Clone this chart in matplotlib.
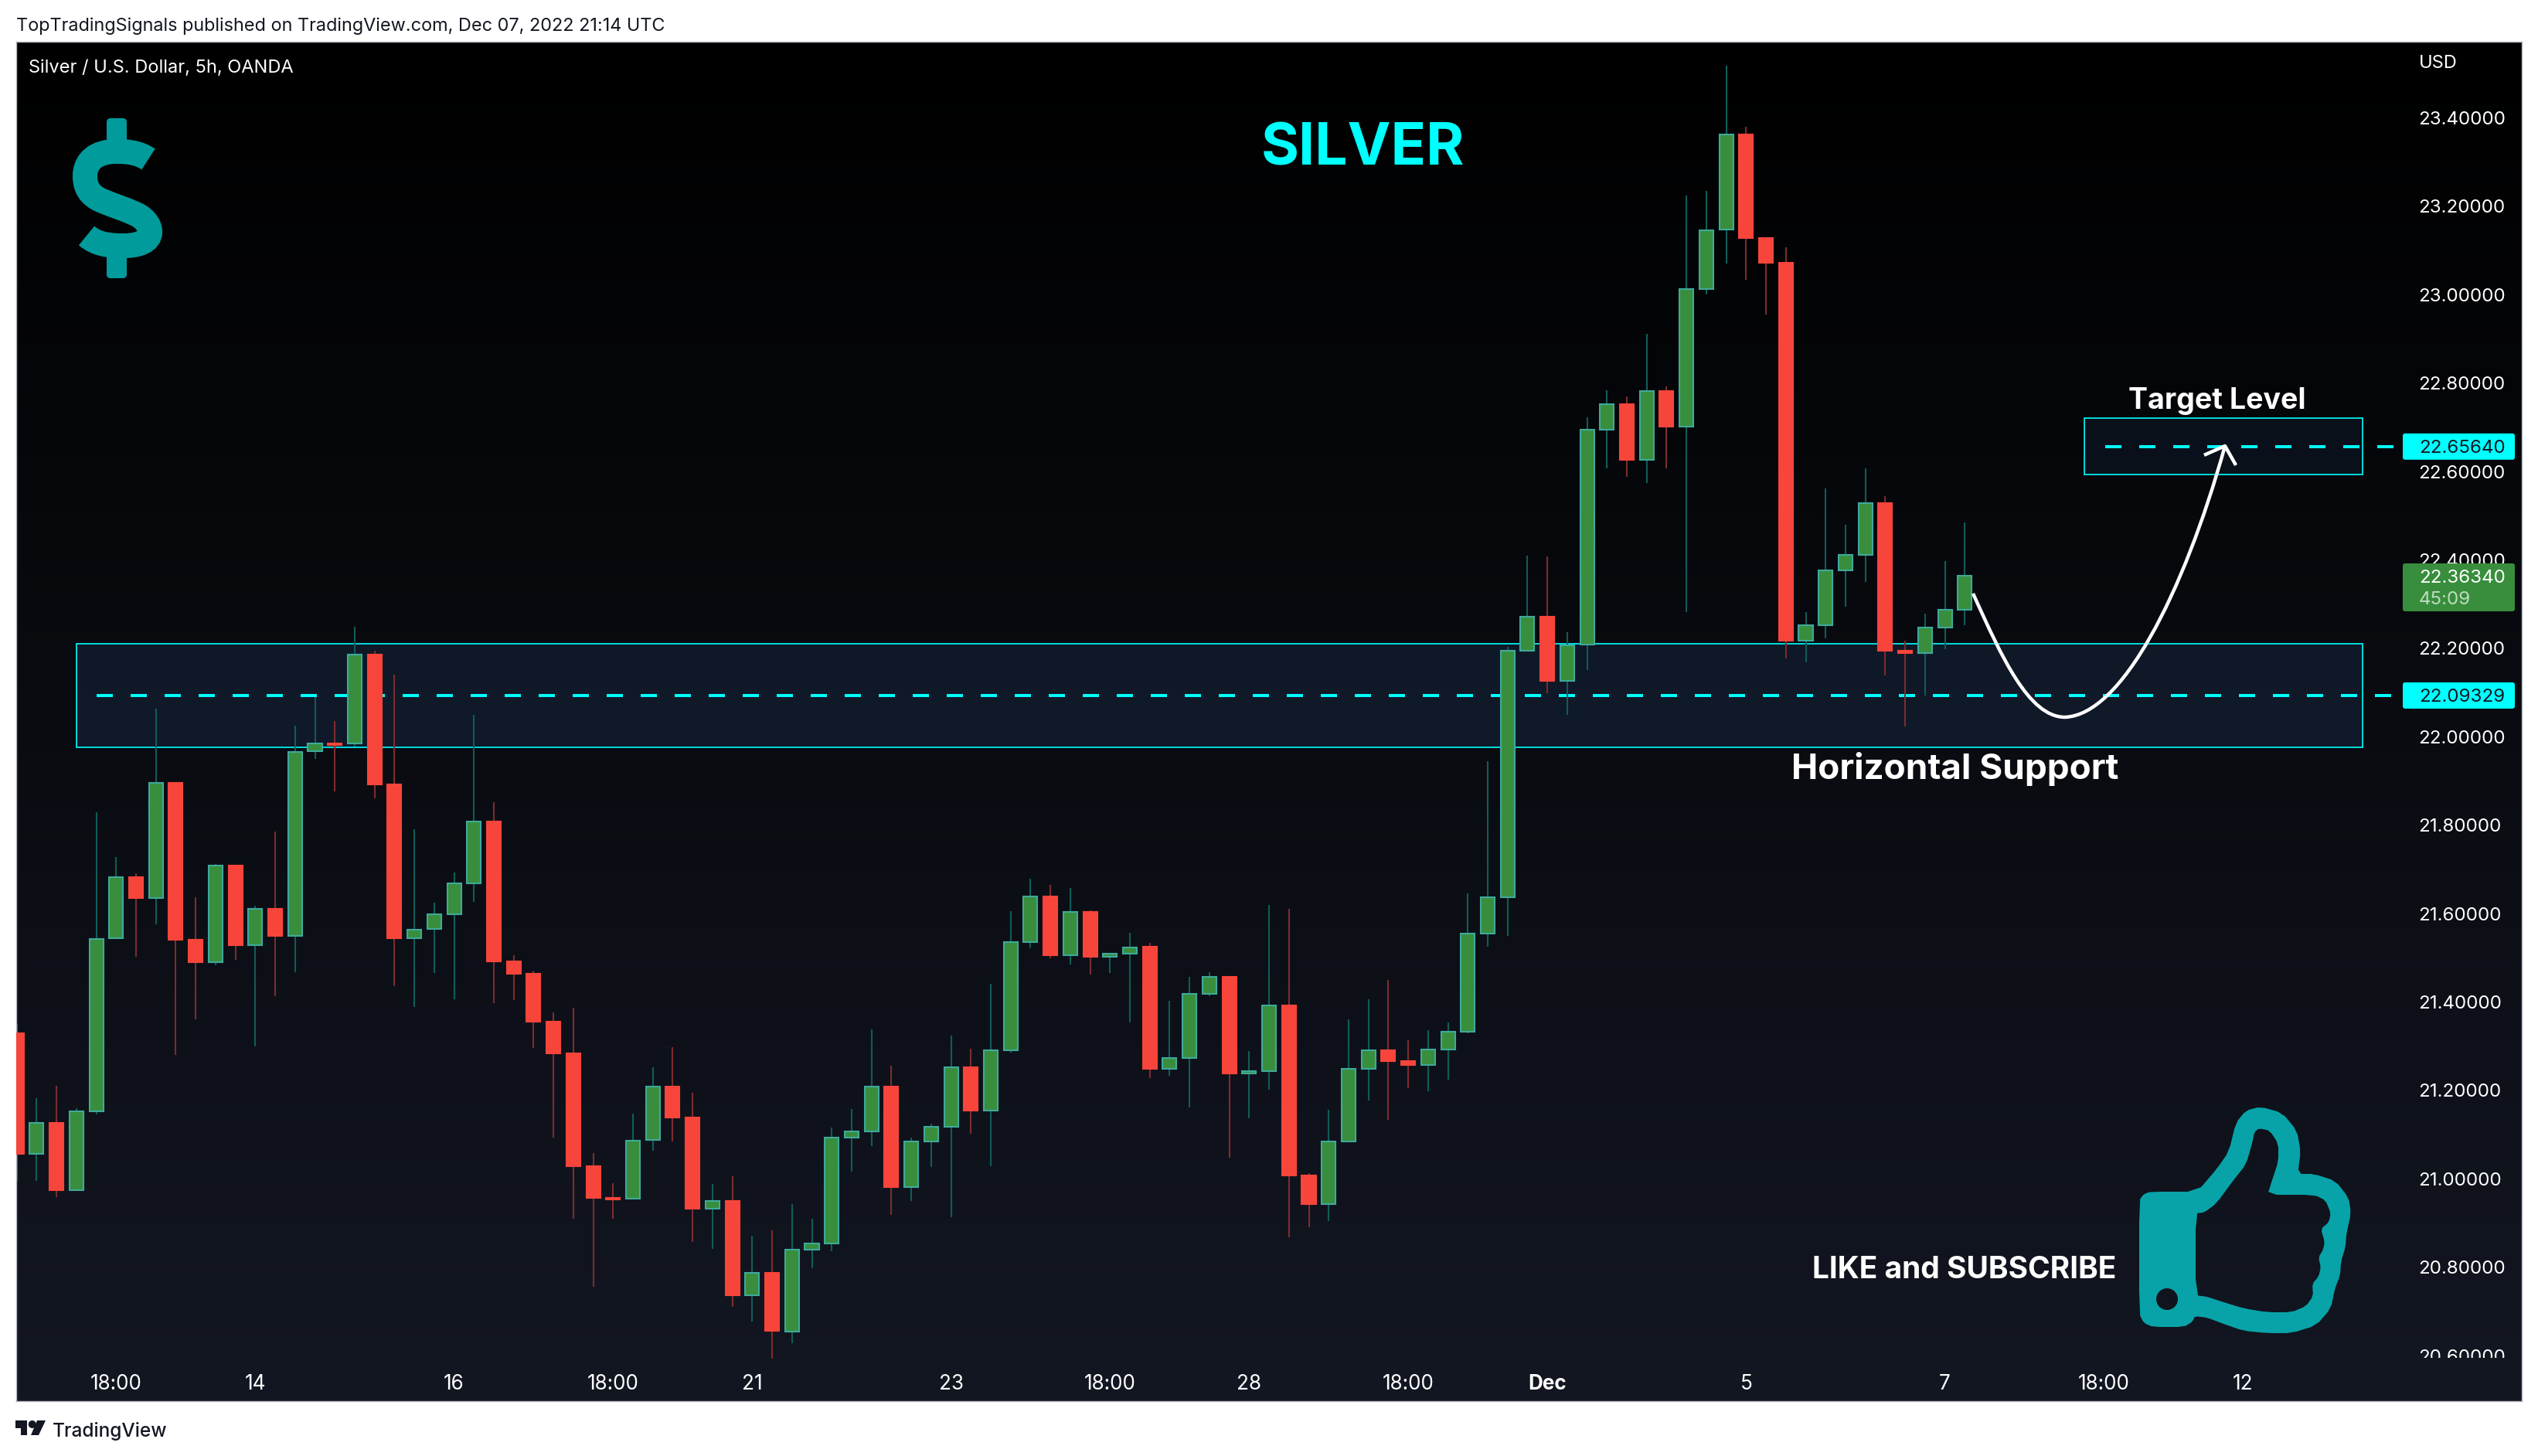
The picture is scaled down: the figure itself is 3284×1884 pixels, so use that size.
import matplotlib
matplotlib.use('Agg')
import matplotlib.pyplot as plt
import numpy as np
from matplotlib.colors import LinearSegmentedColormap
from matplotlib.lines import Line2D
from matplotlib.patches import Ellipse, FancyBboxPatch, PathPatch, Polygon, Rectangle
from matplotlib.path import Path
from matplotlib.transforms import Affine2D, Bbox

# candles, 5h bars
opens = [21.329, 21.057, 21.126, 20.974, 21.153, 21.544, 21.682, 21.636, 21.895, 21.541,
         21.490, 21.709, 21.529, 21.611, 21.549, 21.967, 21.984, 21.984, 22.186, 21.892,
         21.545, 21.565, 21.599, 21.668, 21.809, 21.492, 21.463, 21.356, 21.283, 21.028,
         20.956, 20.955, 21.088, 21.209, 21.138, 20.932, 20.949, 20.736, 20.788, 20.654,
         20.839, 20.854, 21.094, 21.107, 21.209, 20.982, 21.084, 21.117, 21.253, 21.155,
         21.290, 21.535, 21.639, 21.506, 21.603, 21.502, 21.510, 21.525, 21.249, 21.274,
         21.419, 21.456, 21.238, 21.244, 21.393, 21.007, 20.943, 21.084, 21.249, 21.290,
         21.266, 21.258, 21.293, 21.333, 21.554, 21.637, 22.194, 22.272, 22.126, 22.209,
         22.695, 22.753, 22.626, 22.782, 22.701, 23.012, 23.147, 23.363, 23.129, 23.073,
         22.218, 22.252, 22.376, 22.412, 22.529, 22.195, 22.190, 22.247, 22.288]
highs = [21.351, 21.182, 21.210, 21.160, 21.830, 21.728, 21.691, 22.064, 21.895, 21.637,
         21.712, 21.709, 21.617, 21.785, 22.025, 22.090, 22.036, 22.249, 22.195, 22.140,
         21.790, 21.625, 21.692, 22.049, 21.852, 21.505, 21.470, 21.376, 21.387, 21.059,
         20.990, 21.148, 21.252, 21.297, 21.194, 20.988, 21.005, 20.872, 20.883, 20.943,
         20.910, 21.116, 21.158, 21.338, 21.256, 21.093, 21.124, 21.324, 21.294, 21.441,
         21.605, 21.678, 21.665, 21.658, 21.607, 21.510, 21.556, 21.534, 21.403, 21.457,
         21.467, 21.456, 21.289, 21.620, 21.611, 21.013, 21.156, 21.360, 21.406, 21.450,
         21.314, 21.336, 21.354, 21.645, 21.945, 22.204, 22.410, 22.408, 22.236, 22.722,
         22.783, 22.770, 22.912, 22.792, 23.224, 23.235, 23.518, 23.380, 23.129, 23.107,
         22.282, 22.562, 22.479, 22.607, 22.544, 22.217, 22.278, 22.398, 22.484]
lows = [20.996, 20.996, 20.959, 20.974, 21.145, 21.544, 21.502, 21.575, 21.280, 21.361,
        21.483, 21.495, 21.299, 21.413, 21.468, 21.950, 21.876, 21.977, 21.860, 21.436,
        21.388, 21.465, 21.406, 21.626, 21.398, 21.404, 21.296, 21.094, 20.909, 20.755,
        20.909, 20.955, 21.063, 21.085, 20.857, 20.842, 20.710, 20.677, 20.593, 20.628,
        20.798, 20.836, 21.017, 21.074, 20.919, 20.950, 21.026, 20.913, 21.102, 21.028,
        21.285, 21.521, 21.499, 21.485, 21.462, 21.465, 21.354, 21.228, 21.233, 21.161,
        21.413, 21.048, 21.137, 21.201, 20.868, 20.891, 20.904, 21.084, 21.177, 21.133,
        21.205, 21.198, 21.224, 21.329, 21.525, 21.549, 22.194, 22.099, 22.049, 22.151,
        22.608, 22.588, 22.574, 22.608, 22.282, 23.001, 23.070, 23.033, 22.955, 22.177,
        22.168, 22.223, 22.294, 22.350, 22.139, 22.023, 22.093, 22.198, 22.252]
closes = [21.057, 21.126, 20.974, 21.153, 21.543, 21.682, 21.636, 21.895, 21.541, 21.490,
          21.709, 21.529, 21.611, 21.549, 21.966, 21.984, 21.982, 22.186, 21.892, 21.544,
          21.563, 21.599, 21.668, 21.809, 21.492, 21.463, 21.356, 21.283, 21.028, 20.956,
          20.954, 21.086, 21.209, 21.138, 20.932, 20.949, 20.736, 20.788, 20.656, 20.839,
          20.854, 21.094, 21.107, 21.209, 20.982, 21.084, 21.117, 21.253, 21.155, 21.290,
          21.535, 21.639, 21.506, 21.603, 21.502, 21.510, 21.524, 21.249, 21.274, 21.419,
          21.456, 21.238, 21.244, 21.393, 21.007, 20.943, 21.084, 21.249, 21.290, 21.266,
          21.258, 21.293, 21.333, 21.554, 21.637, 22.194, 22.272, 22.126, 22.207, 22.695,
          22.753, 22.626, 22.782, 22.701, 23.012, 23.146, 23.363, 23.129, 23.073, 22.218,
          22.252, 22.376, 22.412, 22.529, 22.194, 22.190, 22.247, 22.287, 22.3634]

price_ticks = [20.6, 20.8, 21.0, 21.2, 21.4, 21.6, 21.8, 22.0, 22.2, 22.4, 22.6, 22.8, 23.0, 23.2, 23.4]
time_tick_bars = [5, 12, 22, 30, 37, 47, 55, 62, 70, 77, 87, 97, 105, 112]
time_tick_labels = ['18:00', '14', '16', '18:00', '21', '23', '18:00', '28', '18:00', 'Dec', '5', '7', '18:00', '12']

support_level = 22.09329
support_zone = (21.976, 22.21)
target_level = 22.6564
target_zone = (22.593, 22.72)
last_price = 22.3634

# icon outlines, traced in screen pixels
thumb_outer = [(2783, 1542), (2843, 1542), (2868, 1513), (2884, 1490), (2893, 1453), (2906, 1437),
               (2925, 1432), (2953, 1440), (2972, 1463), (2977, 1490), (2973, 1519), (2994, 1519),
               (3022, 1528), (3039, 1550), (3042, 1570), (3036, 1597), (3035, 1613), (3029, 1633),
               (3028, 1650), (3021, 1668), (3016, 1693), (2997, 1715), (2965, 1725), (2934, 1725),
               (2903, 1722), (2877, 1713), (2856, 1705), (2840, 1703), (2837, 1710), (2826, 1717),
               (2786, 1717), (2774, 1712), (2768, 1700), (2768, 1553), (2774, 1545)]
thumb_inner = [(2841, 1570), (2852, 1569), (2868, 1557), (2890, 1527), (2906, 1507), (2914, 1480),
               (2917, 1465), (2923, 1460), (2937, 1463), (2948, 1480), (2948, 1503), (2940, 1527),
               (2934, 1546), (2994, 1546), (3009, 1553), (3016, 1570), (3013, 1582), (3003, 1590),
               (3008, 1607), (3006, 1617), (3000, 1627), (3003, 1640), (3000, 1652), (2992, 1661),
               (2993, 1677), (2984, 1690), (2965, 1698), (2934, 1698), (2903, 1693), (2871, 1683),
               (2856, 1678), (2841, 1676)]

W, H = 3284, 1884
DPI = 200
PANEL = (21, 54, 3263, 1813)
BAR0_X = 21.7
BAR_STEP = 25.72
PRICE_Y0 = 953.3
PX_PER_USD = 572.0
PANE_BOTTOM = 1757

CYAN = '#00ffff'
TEAL = '#08a3a8'
INK = '#131722'
TICK_SIZE = 8.7

plt.rcParams['font.family'] = ['Inter', 'DejaVu Sans']


def px_x(x):
    return (x - BAR0_X) / BAR_STEP


def px_price(y):
    return 22 + (PRICE_Y0 - y) / PX_PER_USD


def smooth(points, rounds=1):
    pts = np.array(points, dtype=float)
    for _ in range(rounds):
        nxt = np.roll(pts, -1, axis=0)
        pts = np.column_stack([0.8 * pts + 0.2 * nxt, 0.2 * pts + 0.8 * nxt]).reshape(-1, 2)
    return pts


def closed_path(pts):
    verts = np.vstack([pts, pts[0]])
    codes = [Path.MOVETO] + [Path.LINETO] * (len(pts) - 1) + [Path.CLOSEPOLY]
    return Path(verts, codes)


fig = plt.figure(figsize=(W / DPI, H / DPI), dpi=DPI, facecolor='white')
pix = Affine2D().scale(1, -1).translate(0, H)


def label(x, y, s, color='white', size=8.5, weight='normal', ha='left', zorder=6):
    # y is the text baseline in screen pixels
    fig.text(x, y, s, color=color, fontsize=size, fontweight=weight, va='baseline', ha=ha,
             transform=pix, zorder=zorder)


ax = fig.add_axes([PANEL[0] / W, 1 - PANEL[3] / H, (PANEL[2] - PANEL[0]) / W, (PANEL[3] - PANEL[1]) / H])

cmap = LinearSegmentedColormap.from_list('bg', ['#000000', INK])
ax.imshow(np.linspace(0, 1, 256).reshape(-1, 1), cmap=cmap, aspect='auto', extent=(0, 1, 0, 1),
          transform=ax.transAxes, zorder=0)
ax.set_xlim(px_x(PANEL[0]), px_x(PANEL[2]))
ax.set_ylim(px_price(PANEL[3]), px_price(PANEL[1]))

# zones
zone_x0 = px_x(99)
zone_x1 = px_x(3057)
target_x0 = px_x(2697)
for x0, (lo, hi), alpha in [(zone_x0, support_zone, 0.1), (target_x0, target_zone, 0.07)]:
    ax.add_patch(Rectangle((x0, lo), zone_x1 - x0, hi - lo, facecolor=(0.31, 0.6, 1.0, alpha),
                           edgecolor='none', zorder=1))
    ax.add_patch(Rectangle((x0, lo), zone_x1 - x0, hi - lo, facecolor='none', edgecolor=CYAN,
                           linewidth=0.6, zorder=1.2))

# dashes: 21px on / 23px off
dash_px = 4.0
dash_lw = dash_px * 72 / DPI
dash_style = (0, (21 / dash_px, 23 / dash_px))
ax.plot([px_x(125), px_x(3097)], [support_level, support_level], color=CYAN, lw=dash_lw,
        linestyle=dash_style, zorder=1.5)
ax.plot([px_x(2724), px_x(3097)], [target_level, target_level], color=CYAN, lw=dash_lw,
        linestyle=dash_style, zorder=1.5)

# candles
idx = np.arange(len(opens))
o = np.array(opens)
h = np.array(highs)
l = np.array(lows)
c = np.array(closes)
up = c >= o
ax.vlines(idx[up], l[up], h[up], color='#0f5d58', lw=0.75, zorder=2)
ax.vlines(idx[~up], l[~up], h[~up], color='#7d2c30', lw=0.75, zorder=2)
ax.bar(idx[up], (c - o)[up], bottom=o[up], width=0.70, color='#388e3c', edgecolor='#3fa99c',
       linewidth=0.75, zorder=3)
ax.bar(idx[~up], (c - o)[~up], bottom=o[~up], width=0.70, color='#f7453b', edgecolor='#f7453b',
       linewidth=0.75, zorder=3)

# axes text
for s in ax.spines.values():
    s.set_color('#b2b5be')
    s.set_linewidth(0.5)
ax.yaxis.tick_right()
ax.set_yticks(price_ticks)
ax.set_yticklabels(['%.5f' % p for p in price_ticks])
ax.tick_params(axis='y', length=0, pad=-48.2, labelsize=TICK_SIZE, labelcolor='#ffffff')
for lab in ax.get_yticklabels():
    lab.set_ha('left')
ax.set_xticks(time_tick_bars)
ax.set_xticklabels(time_tick_labels)
ax.tick_params(axis='x', length=0, pad=-12.5, labelsize=9.4, labelcolor='#ffffff')
ax.get_xticklabels()[time_tick_labels.index('Dec')].set_fontweight('bold')

clip = Bbox([[0, H - PANE_BOTTOM], [W, H]])
fig.canvas.draw()
for t in ax.yaxis.get_major_ticks():
    t.label2.set_clip_box(clip)
    t.label2.set_clip_on(True)

# price tags
for price in (target_level, support_level):
    y = PRICE_Y0 - (price - 22) * PX_PER_USD
    fig.add_artist(FancyBboxPatch((3109, y - 17), 145, 34, boxstyle='round,pad=0,rounding_size=3',
                                  facecolor=CYAN, edgecolor='none', transform=pix, zorder=5))
    label(3130, y + 8, '%.5f' % price, color=INK, size=TICK_SIZE)
fig.add_artist(FancyBboxPatch((3109, 729), 145, 62, boxstyle='round,pad=0,rounding_size=3',
                              facecolor='#388e3c', edgecolor='none', transform=pix, zorder=5))
label(3130, 754, '%.5f' % last_price, size=TICK_SIZE)
label(3130, 782, '45:09', color='#bfdcc1', size=TICK_SIZE)

# labels
label(21, 40, 'TopTradingSignals published on TradingView.com, Dec 07, 2022 21:14 UTC', color=INK, size=8.45)
label(37, 94, 'Silver / U.S. Dollar, 5h, OANDA', size=8.5)
label(3130, 88, 'USD', size=8.5)
label(1763, 213, 'SILVER', color=CYAN, size=27, weight='bold', ha='center')
label(2869, 529, 'Target Level', size=13.5, weight='bold', ha='center')
label(2530, 1008, 'Horizontal Support', size=16.5, weight='bold', ha='center')
label(2542, 1654, 'LIKE and SUBSCRIBE', size=14, weight='bold', ha='center')

# curved arrow
curve = Path([(2553, 768), (2590, 850), (2625, 928), (2672, 928), (2745, 925), (2825, 770), (2879, 577)],
             [Path.MOVETO] + [Path.CURVE4] * 6)
fig.add_artist(PathPatch(curve, facecolor='none', edgecolor='white', lw=1.6, transform=pix, zorder=4))
fig.add_artist(Line2D([2854, 2879, 2892], [588, 577, 600], color='white', lw=1.6, transform=pix, zorder=4))

# dollar icon
dollar = Path([(192, 206), (180, 198), (168, 196), (150, 196), (125, 196), (110, 208), (110, 228),
               (110, 248), (122, 256), (135, 261), (147, 266), (160, 270), (171, 275),
               (185, 280), (194, 290), (194, 300), (194, 312), (180, 318), (160, 318),
               (140, 318), (125, 316), (112, 305)],
              [Path.MOVETO] + [Path.CURVE4] * 21)
fig.add_artist(PathPatch(dollar, facecolor='none', edgecolor='#029b9b', lw=32 * 72 / DPI, capstyle='butt',
                         transform=pix, zorder=4))
for y0, y1 in [(153, 190), (322, 360)]:
    fig.add_artist(FancyBboxPatch((138, y0), 26, y1 - y0, boxstyle='round,pad=0,rounding_size=5',
                                  facecolor='#029b9b', edgecolor='none', transform=pix, zorder=4))

# thumb icon
outer = closed_path(smooth(thumb_outer))
inner = closed_path(smooth(thumb_inner)[::-1])
thumb = Path.make_compound_path(outer, inner)
fig.add_artist(PathPatch(thumb, facecolor=TEAL, edgecolor='none', transform=pix, zorder=4))
fig.add_artist(Ellipse((2804, 1681), 28, 28, facecolor='#10141c', edgecolor='none', transform=pix, zorder=5))

# footer
label(68, 1859, 'TradingView', color=INK, size=8.8, weight='medium')
fig.add_artist(Polygon([(20, 1838), (35, 1838), (35, 1857), (27, 1857), (27, 1848), (20, 1848)],
                       facecolor=INK, edgecolor='none', transform=pix))
fig.add_artist(Ellipse((41.7, 1843), 10, 10, facecolor=INK, edgecolor='none', transform=pix))
fig.add_artist(Polygon([(48, 1838), (59, 1838), (50, 1857), (40, 1857)], facecolor=INK, edgecolor='none',
                       transform=pix))

fig.savefig('out.png', dpi=DPI)
plt.close(fig)
